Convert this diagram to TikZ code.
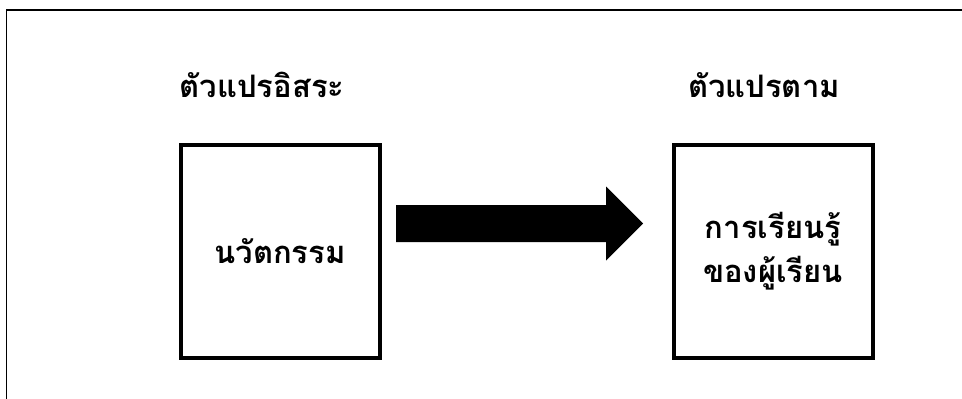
\documentclass[tikz,border=0pt]{standalone}
\usepackage{fontspec}
\newfontfamily\thaifont[Script=Thai]{Loma}
\begin{document}
\begin{tikzpicture}[x=1pt,y=-1pt,
  varbox/.style={draw=black,line width=4pt,minimum width=199pt,minimum height=213pt,inner sep=0pt,align=center,font=\thaifont\bfseries\fontsize{31}{44}\selectfont},
  head/.style={inner sep=0pt,font=\thaifont\bfseries\fontsize{31}{36}\selectfont}]
\useasboundingbox (0,0) rectangle (962,399);
\draw[line width=1.5pt] (6.5,400) -- (6.5,10) -- (963,10);
\node[head] (h1) at (262,85) {ตัวแปรอิสระ};
\node[head] (h2) at (764,85) {ตัวแปรตาม};
\node[varbox] (b1) at (280,251.5) {นวัตกรรม};
\node[varbox] (b2) at (773,251.5) {การเรียนรู้\\ของผู้เรียน};
\coordinate (as) at (396,223.5);
\fill[black] (as) ++(0,-18.5) -- ++(210,0) -- ++(0,-18.5) -- ++(37,37) -- ++(-37,37) -- ++(0,-18.5) -- ++(-210,0) -- cycle;
\end{tikzpicture}
\end{document}
